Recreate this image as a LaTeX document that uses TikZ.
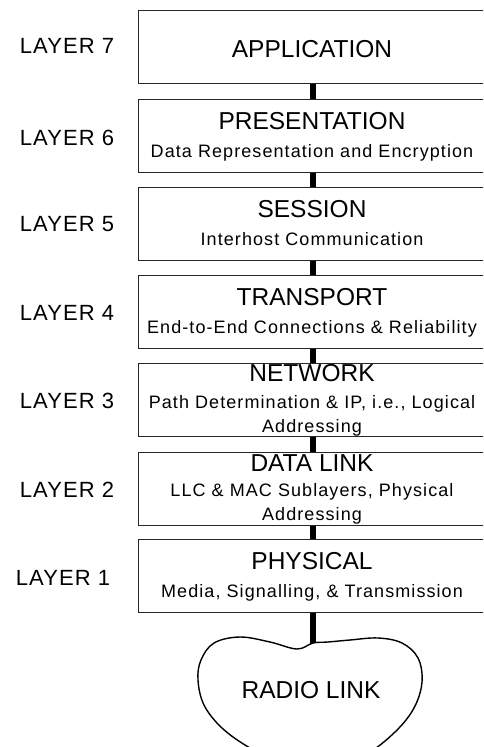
\documentclass[tikz,border=0pt]{standalone}
\usepackage{fontspec}
\setmainfont{Liberation Sans}
\newfontfamily\spacedfont[LetterSpace=6]{Liberation Sans}
\newfontfamily\labelfont[LetterSpace=5]{Liberation Sans}

\tikzset{
  layerbox/.style={draw=black!85, line width=1pt, minimum width=350pt, minimum height=73pt, inner sep=0pt},
  layerlabel/.style={anchor=base, inner sep=0pt, font=\labelfont\fontsize{22}{26}\selectfont},
  titletext/.style={anchor=base, inner sep=0pt, font=\fontsize{24.5}{28}\selectfont},
  subtext/.style={anchor=base, inner sep=0pt, align=center, font=\spacedfont\fontsize{18}{24}\selectfont},
  link/.style={line width=5.5pt},
  cloudline/.style={line width=1.4pt}
}

\begin{document}
\begin{tikzpicture}[x=1pt,y=-1pt]
  \useasboundingbox (0,0) rectangle (483,747);
  \clip (0,0) rectangle (483,747);
  %%%%% BOXES %%%%%
  \node[layerbox] (app) at (313,47) {};
  \node[layerbox] (pres) at (313,136) {};
  \node[layerbox] (sess) at (313,223.5) {};
  \node[layerbox] (trans) at (313,312) {};
  \node[layerbox] (net) at (313,399.5) {};
  \node[layerbox] (dlink) at (313,488.5) {};
  \node[layerbox] (phys) at (313,576) {};

  %%%%% LAYER NUMBERS %%%%%
  \node[layerlabel] (lab7) at (67,53) {LAYER 7};
  \node[layerlabel] (lab6) at (67,145) {LAYER 6};
  \node[layerlabel] (lab5) at (67,231) {LAYER 5};
  \node[layerlabel] (lab4) at (67,320) {LAYER 4};
  \node[layerlabel] (lab3) at (67,408) {LAYER 3};
  \node[layerlabel] (lab2) at (67,497) {LAYER 2};
  \node[layerlabel] (lab1) at (63,585) {LAYER 1};

  %%%%% TEXTS %%%%%
  % multi-line subtexts sit on their last line
  \node[titletext] (apptxt) at (312,57) {APPLICATION};
  \node[titletext] (prestxt) at (312,129.5) {PRESENTATION};
  \node[subtext] (pressub) at (312,157.5) {Data Representation and Encryption};
  \node[titletext] (sesstxt) at (312,217) {SESSION};
  \node[subtext] (sesssub) at (312,245) {Interhost Communication};
  \node[titletext] (transtxt) at (312,305.5) {TRANSPORT};
  \node[subtext] (transsub) at (312,333.5) {End-to-End Connections \& Reliability};
  \node[titletext] (nettxt) at (312,381) {NETWORK};
  \node[subtext] (netsub) at (312,432) {Path Determination \& IP, i.e., Logical\\Addressing};
  \node[titletext] (dlinktxt) at (312,471) {DATA LINK};
  \node[subtext] (dlinksub) at (312,520) {LLC \& MAC Sublayers, Physical\\Addressing};
  \node[titletext] (phystxt) at (312,569.5) {PHYSICAL};
  \node[subtext] (physsub) at (312,597.5) {Media, Signalling, \& Transmission};

  %%%%% LINKS %%%%%
  \draw[link] (app) -- (pres);
  \draw[link] (pres) -- (sess);
  \draw[link] (sess) -- (trans);
  \draw[link] (trans) -- (net);
  \draw[link] (net) -- (dlink);
  \draw[link] (dlink) -- (phys);

  %%%%% RADIO LINK %%%%%
  \coordinate (radiotop) at (313,643);
  \draw[link] (phys) -- (radiotop);
  \draw[cloudline] plot[smooth cycle, tension=0.6] coordinates {
    (radiotop) (297,649) (270,642) (240,637) (214,643) (201,660) (198,680)
    (204,705) (222,728) (250,748) (285,765) (325,770) (365,755) (395,732)
    (414,708) (422,682) (418,658) (402,643) (378,638) (350,640) (328,642)};
  \node[titletext] (radiotxt) at (311,698) {RADIO LINK};
\end{tikzpicture}
\end{document}
